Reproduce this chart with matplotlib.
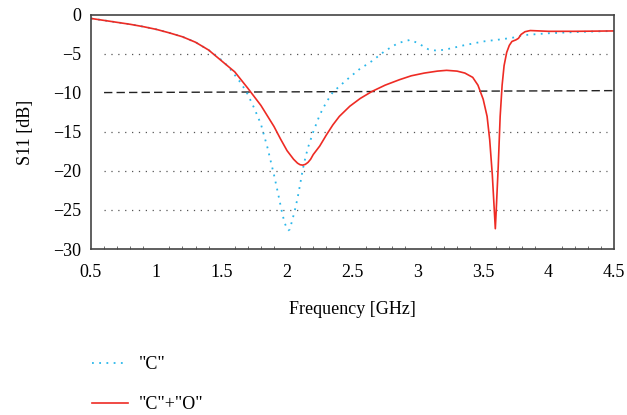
import matplotlib
matplotlib.use('Agg')
import matplotlib.pyplot as plt
from matplotlib.ticker import MultipleLocator

# "C" antenna (blue dotted)
freq_c = [0.5, 0.6, 0.7, 0.8, 0.9, 1.0, 1.1, 1.2, 1.3, 1.4, 1.5, 1.55, 1.6, 1.65,
          1.7, 1.75, 1.8, 1.85, 1.9, 1.93, 1.96, 1.98, 2.0, 2.01, 2.02, 2.04,
          2.06, 2.08, 2.1, 2.12, 2.14, 2.16, 2.2, 2.25, 2.3, 2.35, 2.45, 2.55,
          2.65, 2.75, 2.85, 2.94, 3.0, 3.08, 3.15, 3.25, 3.35, 3.5, 3.65, 3.73,
          3.8, 4.0, 4.2, 4.5]
s11_c = [-0.45, -0.7, -0.95, -1.2, -1.5, -1.85, -2.3, -2.8, -3.5, -4.5, -5.8,
         -6.6, -7.7, -8.8, -10.2, -12.0, -14.0, -17.0, -20.5, -22.8, -25.2,
         -26.6, -27.4, -27.6, -27.5, -26.3, -25.0, -23.5, -21.7, -19.8, -18.3,
         -17.0, -15.0, -12.8, -11.2, -9.9, -8.4, -7.0, -5.9, -4.6, -3.6, -3.2,
         -3.6, -4.4, -4.6, -4.3, -3.9, -3.4, -3.1, -2.9, -2.6, -2.35, -2.2,
         -2.05]

# "C"+"O" antenna (red solid)
freq_co = [0.5, 0.6, 0.7, 0.8, 0.9, 1.0, 1.1, 1.2, 1.3, 1.4, 1.5, 1.6, 1.7,
           1.8, 1.9, 1.95, 2.0, 2.05, 2.08, 2.1, 2.12, 2.14, 2.16, 2.18, 2.2,
           2.25, 2.3, 2.35, 2.4, 2.48, 2.56, 2.65, 2.75, 2.86, 2.95, 3.05,
           3.15, 3.22, 3.3, 3.36, 3.42, 3.46, 3.5, 3.53, 3.55, 3.57, 3.585,
           3.593, 3.6, 3.615, 3.63, 3.645, 3.66, 3.68, 3.7, 3.72, 3.75, 3.77,
           3.79, 3.82, 3.86, 4.0, 4.2, 4.5]
s11_co = [-0.45, -0.7, -0.95, -1.2, -1.5, -1.85, -2.3, -2.8, -3.5, -4.5, -5.9,
          -7.3, -9.4, -11.6, -14.3, -15.9, -17.4, -18.5, -19.0, -19.2, -19.25,
          -19.15, -18.9, -18.5, -17.9, -16.8, -15.4, -14.1, -13.0, -11.7,
          -10.7, -9.8, -9.0, -8.3, -7.8, -7.45, -7.2, -7.1, -7.2, -7.45, -8.0,
          -9.0, -10.8, -13.0, -16.0, -20.5, -25.0, -27.4, -25.0, -19.5, -13.0,
          -9.0, -6.5, -4.8, -3.9, -3.4, -3.2, -3.0, -2.5, -2.15, -2.0, -2.1,
          -2.1, -2.05]

# -10 dB reference
ref_x = [0.6, 4.5]
ref_y = [-9.95, -9.7]
grid_levels = [-5, -15, -20, -25]

plt.rcParams['font.family'] = ['Liberation Serif', 'DejaVu Serif']

fig = plt.figure(figsize=(6.27, 4.15), dpi=100)
ax = fig.add_axes([0.1451, 0.4, 0.834, 0.564])

ax.hlines(grid_levels, 0.6, 4.45, colors='#555555', linestyles=(0, (1, 4.5)), linewidth=0.9)
ax.plot(ref_x, ref_y, color='#222222', linestyle=(0, (6, 3)), linewidth=1.0)
c_line, = ax.plot(freq_c, s11_c, color='#2ab7ea', linestyle=(0, (1, 3)), linewidth=1.3)
co_line, = ax.plot(freq_co, s11_co, color='#ee2b24', linewidth=1.2)

ax.set_xlim(0.5, 4.5)
ax.set_ylim(-30, 0)
ax.xaxis.set_major_locator(MultipleLocator(0.5))
ax.xaxis.set_minor_locator(MultipleLocator(0.1))
ax.set_xticklabels([('%g' % v) for v in ax.get_xticks()])
ax.set_yticks([0, -5, -10, -15, -20, -25, -30])
ax.set_yticklabels(['0', '\u22125', '\u221210', '\u221215', '\u221220', '\u221225', '\u221230'])
ax.tick_params(axis='both', which='major', length=0, labelsize=13)
ax.tick_params(axis='x', which='major', pad=11)
ax.tick_params(axis='y', which='major', pad=7)
ax.tick_params(axis='x', which='minor', direction='in', length=2.5, width=0.6, color='#555555')
ax.tick_params(axis='y', which='minor', length=0)
for s in ax.spines.values():
    s.set_color('#444444')
    s.set_linewidth(1.2)

ax.set_xlabel('Frequency [GHz]', fontsize=13, labelpad=14)
ax.set_ylabel('S11 [dB]', fontsize=13, labelpad=14)

fig.legend([c_line, co_line], ['"C"', '"C"+"O"'], loc='upper left',
           bbox_to_anchor=(0.135, 0.16, 0.3, 0.0), frameon=False,
           fontsize=13, handlelength=2.0, labelspacing=1.3, handletextpad=0.6,
           borderaxespad=0)

fig.savefig('out.png', dpi=100)
